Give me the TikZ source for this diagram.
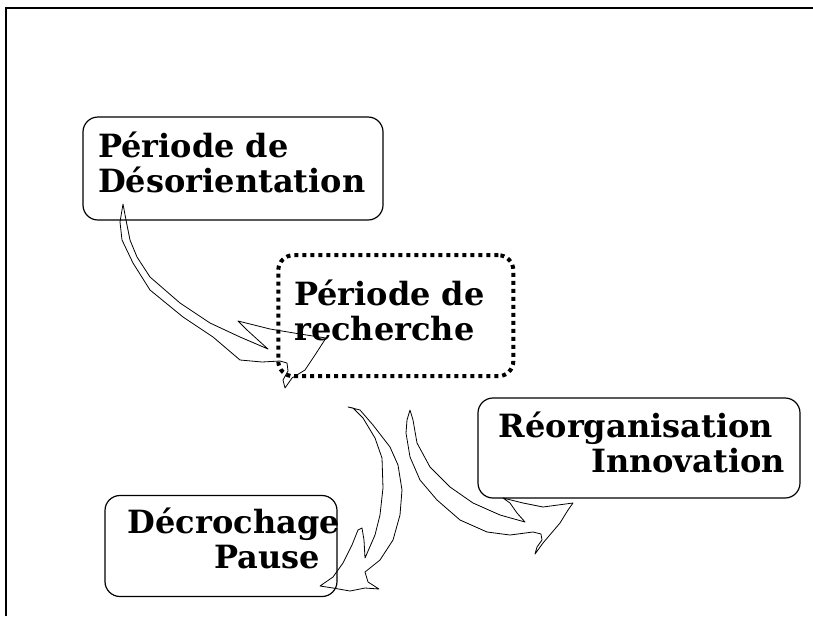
\documentclass[tikz,border=0pt]{standalone}
\usepackage{fontspec}
\setmainfont{DejaVu Serif}

\begin{document}
\begin{tikzpicture}[
                x=1pt, y=-1pt,
                phase/.style={
                  draw,
                  line width=1.2pt,
                  rounded corners=15pt,
                  inner sep=0pt,
                },
                search/.style={
                  phase,
                  line width=4pt,
                  dash pattern=on 4pt off 4pt,
                },
                lbl/.style={
                  font=\fontsize{32}{35}\selectfont\bfseries,
                  inner sep=0pt,
                },
                flow/.style={
                  draw,
                  fill=white,
                  line width=0.8pt,
                  line join=round,
                },
              ]
              \useasboundingbox (0,0) rectangle (813,616);
              \draw[line width=2.3pt] (6,616) -- (6,8.3) -- (813,8.3);
              % curved arrows first, the boxes lie on top
              \draw[flow] (123,204) -- (120,222) -- (122,240) -- (133,263) -- (150,290)
                -- (183,317) -- (213,337) -- (240,360) -- (262,362) -- (280,361)
                -- (287,363) -- (288,371) -- (283,380) -- (285,388) -- (292,378)
                -- (305,370) -- (315,355) -- (326,338) -- (300,334) -- (270,329)
                -- (238,321) -- (247,330) -- (258,340) -- (268,349) -- (240,337)
                -- (210,323) -- (180,303) -- (150,277) -- (137,257) -- (130,240)
                -- (126,220) -- cycle;
              \draw[flow] (348,407) -- (360,410) -- (373,425) -- (390,447) -- (398,465)
                -- (402,490) -- (400,515) -- (393,540) -- (380,560) -- (365,572)
                -- (368,582) -- (379,589) -- (365,588) -- (350,591) -- (333,588)
                -- (320,586) -- (333,577) -- (343,563) -- (352,545) -- (358,530)
                -- (362,528) -- (364,540) -- (365,558) -- (375,535) -- (380,515)
                -- (383,488) -- (382,458) -- (375,438) -- (363,418) -- (353,408)
                -- cycle;
              \draw[flow] (410,410) -- (407,420) -- (406,433) -- (410,457) -- (420,480)
                -- (437,500) -- (460,520) -- (487,532) -- (510,535) -- (533,532)
                -- (541,534) -- (542,540) -- (537,547) -- (535,554) -- (543,543)
                -- (560,523) -- (568,510) -- (573,503) -- (543,507) -- (523,503)
                -- (503,498) -- (510,503) -- (517,513) -- (525,522) -- (500,515)
                -- (473,503) -- (450,487) -- (430,467) -- (417,443) -- (413,420)
                -- cycle;
              % boxes
              \node[phase, minimum width=300pt, minimum height=103pt] (deso) at (233,168.5) {};
              \node[search, minimum width=235pt, minimum height=121pt] (rech) at (395.8,315.7) {};
              \node[phase, minimum width=322pt, minimum height=100pt] (reorg) at (639,448) {};
              \node[phase, minimum width=232pt, minimum height=101pt] (decro) at (221,546) {};
              % texts (base = last line)
              \node[lbl, align=left, anchor=base west] (desoT) at (98,192) {Période de\\Désorientation};
              \node[lbl, align=left, anchor=base west] (rechT) at (294,340) {Période de\\recherche};
              \node[lbl, align=right, anchor=base east] (reorgT) at (785,472) {Réorganisation\rule{12pt}{0pt}\\Innovation};
              \node[lbl, align=right, anchor=base east] (decroT) at (340,568) {Décrochage\\Pause\rule{20pt}{0pt}};
              \end{tikzpicture}
\end{document}
